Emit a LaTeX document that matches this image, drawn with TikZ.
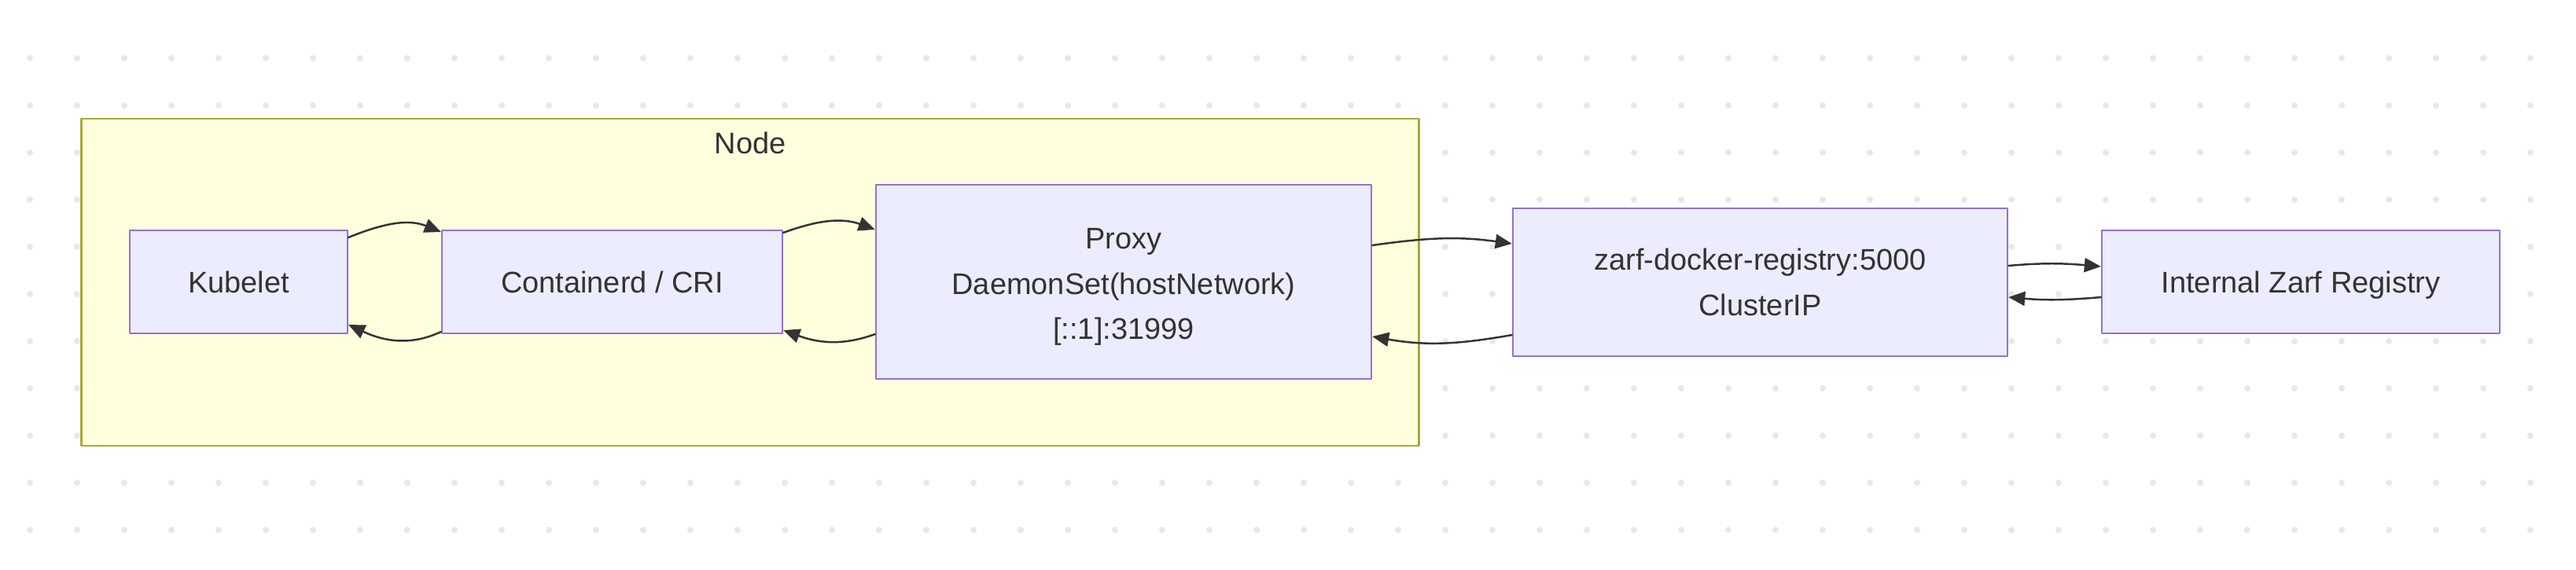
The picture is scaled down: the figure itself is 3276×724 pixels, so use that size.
\documentclass[tikz,border=0pt]{standalone}
\usepackage{fontspec}
\setmainfont{Liberation Sans}
\usetikzlibrary{arrows.meta}
\definecolor{nodefill}{HTML}{ECECFF}
\definecolor{nodeline}{HTML}{9370DB}
\definecolor{clusterfill}{HTML}{FFFFDE}
\definecolor{clusterline}{HTML}{AAAA33}
\definecolor{darkcharcoal}{HTML}{333333}
\definecolor{gridgray}{HTML}{E8E8E8}

\begin{document}
\begin{tikzpicture}[
    x=0.01cm, y=-0.01cm,
    line cap=round, line join=round,
    font=\fontsize{10.8}{16.4}\selectfont,
    boxsvc/.style={draw=nodeline, fill=nodefill, line width=0.6pt, text=darkcharcoal, align=center, inner sep=0pt},
    boxcluster/.style={draw=clusterline, fill=clusterfill, line width=0.6pt, inner sep=0pt},
    flow/.style={-{Triangle[length=0.21cm, width=0.18cm]}, line width=0.7pt, draw=darkcharcoal}
  ]
    % Canvas and dot grid
    \fill[white] (0,0) rectangle (3276,724);
    \useasboundingbox (0,0) rectangle (3276,724);
    \foreach \i in {0,...,53}
      \foreach \j in {0,...,10}
        \fill[gridgray] ({38+60*\i},{74+60*\j}) circle (4);

    % Cluster (Node)
    \node[boxcluster, minimum width=17cm, minimum height=4.16cm] (Cluster) at (954, 359) {};
    \node[text=darkcharcoal] (ClusterLbl) at (954, 182) {Node};

    % Services inside the cluster
    \node[boxsvc, minimum width=2.77cm, minimum height=1.31cm] (Kubelet) at (303.5, 358.5) {Kubelet};
    \node[boxsvc, minimum width=4.33cm, minimum height=1.31cm] (CRI) at (778.5, 358.5) {Containerd / CRI};
    \node[boxsvc, minimum width=6.30cm, minimum height=2.47cm] (Proxy) at (1429, 358.5) {\rule{0pt}{0.39cm}Proxy\\DaemonSet(hostNetwork)\\{[}::1{]}:31999};

    % Services outside the cluster
    \node[boxsvc, minimum width=6.29cm, minimum height=1.88cm] (ZarfSvc) at (2238.5, 359) {zarf-docker-registry:5000\\ClusterIP};
    \node[boxsvc, minimum width=5.06cm, minimum height=1.31cm, text depth=0pt] (ZarfReg) at (2926, 358.5) {Internal Zarf Registry};

    % Requests (top) and replies (bottom)
    \draw[flow] ([yshift=0.565cm]Kubelet.east) to[out=22, in=158] ([yshift=0.635cm]CRI.west);
    \draw[flow] ([yshift=-0.635cm]CRI.west) to[out=205, in=-25] ([yshift=-0.545cm]Kubelet.east);

    \draw[flow] ([yshift=0.625cm]CRI.east) to[out=20, in=160] ([yshift=0.665cm]Proxy.west);
    \draw[flow] ([yshift=-0.665cm]Proxy.west) to[out=200, in=-20] ([yshift=-0.615cm]CRI.east);

    \draw[flow] ([yshift=0.465cm]Proxy.east) to[out=8, in=172] ([yshift=0.49cm]ZarfSvc.west);
    \draw[flow] ([yshift=-0.67cm]ZarfSvc.west) to[out=190, in=-10] ([yshift=-0.695cm]Proxy.east);

    \draw[flow] ([yshift=0.21cm]ZarfSvc.east) to[out=5, in=175] ([yshift=0.195cm]ZarfReg.west);
    \draw[flow] ([yshift=-0.195cm]ZarfReg.west) to[out=185, in=-5] ([yshift=-0.19cm]ZarfSvc.east);

  \end{tikzpicture}
\end{document}
